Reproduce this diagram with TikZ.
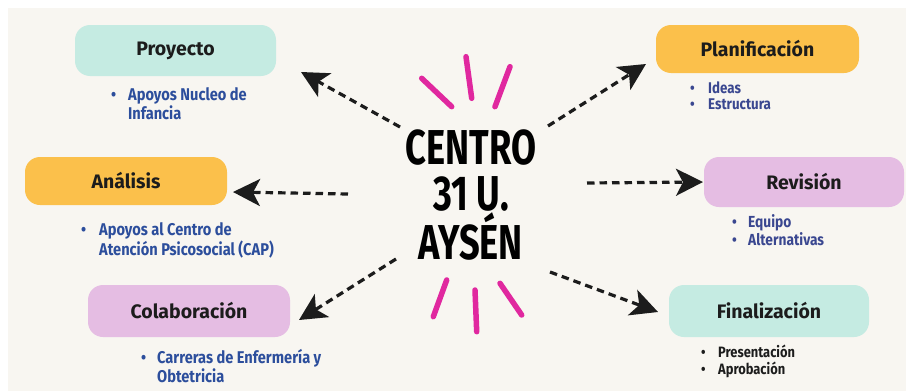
\documentclass[tikz,border=0pt]{standalone}
\usepackage{fontspec}
\setmainfont{Fira Sans}
\newfontfamily\cond{Fira Sans}[FakeStretch=0.86]
\newfontfamily\bigcond{Fira Sans}[FakeStretch=0.74]
\usetikzlibrary{arrows.meta}
\definecolor{bgc}{HTML}{F8F6F1}
\definecolor{tealc}{HTML}{C5EBE2}
\definecolor{orangec}{HTML}{FBC04B}
\definecolor{pinkc}{HTML}{E5BDE3}
\definecolor{blueA}{HTML}{2C4E9C}
\definecolor{blueB}{HTML}{3A4790}
\definecolor{inkc}{HTML}{1C1C1C}
\definecolor{magc}{HTML}{E0289F}
\newcommand\bul[1]{\makebox[#1pt][l]{\textbullet}}
\tikzset{
  box/.style={inner sep=0pt, rounded corners=15pt, text=inkc,
    font=\bfseries\fontsize{19.5}{22}\selectfont},
  items/.style={anchor=base west, inner sep=0pt, font=\cond\bfseries},
  arr/.style={draw=inkc, line width=3.2pt, dash pattern=on 7.5pt off 5pt,
    -{Stealth[length=27pt,width=27pt,inset=7pt]}},
  burst/.style={draw=magc, line width=5.5pt, line cap=round}
}
\begin{document}
\begin{tikzpicture}[x=1pt,y=-1pt]
\useasboundingbox (0,0) rectangle (906,391);
\fill[white] (0,0) rectangle (906,391);
\fill[bgc] (8,8) rectangle (906,391);

% boxes
\node[box, fill=tealc, minimum width=201pt, minimum height=51pt] (proy) at (175.5,50.5) {Proyecto};
\node[box, fill=orangec, minimum width=202pt, minimum height=48pt] (anal) at (126,181) {Análisis};
\node[box, fill=pinkc, minimum width=202pt, minimum height=52pt] (cola) at (189,311) {Colaboración};
\node[box, fill=orangec, minimum width=203pt, minimum height=48pt] (plan) at (757.5,49) {Planificación};
\node[box, fill=pinkc, minimum width=200pt, minimum height=50pt] (revi) at (804,182) {Revisión};
\node[box, fill=tealc, minimum width=200pt, minimum height=52pt] (fina) at (769,311) {Finalización};

% bullet lists
\node[items, text=blueA, font=\cond\bfseries\fontsize{17}{18.5}\selectfont] (proyL) at (111,100)
  {\begin{tabular}[t]{@{}l@{}l@{}}\bul{17} & Apoyos Nucleo de\\ & Infancia\end{tabular}};
\node[items, text=blueA, font=\cond\bfseries\fontsize{17}{18.5}\selectfont] (analL) at (81,235)
  {\begin{tabular}[t]{@{}l@{}l@{}}\bul{18} & Apoyos al Centro de\\ & Atención Psicosocial (CAP)\end{tabular}};
\node[items, text=blueA, font=\cond\bfseries\fontsize{17}{19}\selectfont] (colaL) at (141,363)
  {\begin{tabular}[t]{@{}l@{}l@{}}\bul{16} & Carreras de Enfermería y\\ & Obtetricia\end{tabular}};
\node[items, text=blueB, font=\cond\bfseries\fontsize{15.5}{16}\selectfont] (planL) at (690,93)
  {\begin{tabular}[t]{@{}l@{}l@{}}\bul{18} & Ideas\\ \bul{18} & Estructura\end{tabular}};
\node[items, text=blueB, font=\cond\bfseries\fontsize{16}{18}\selectfont] (reviL) at (732,227)
  {\begin{tabular}[t]{@{}l@{}l@{}}\bul{16} & Equipo\\ \bul{16} & Alternativas\end{tabular}};
\node[items, text=inkc, font=\cond\bfseries\fontsize{15}{17}\selectfont] (finaL) at (701,357)
  {\begin{tabular}[t]{@{}l@{}l@{}}\bul{17} & Presentación\\ \bul{17} & Aprobación\end{tabular}};

% centre
\node[align=center, inner sep=0pt, text=black,
  font=\bigcond\bfseries\fontsize{49}{45.5}\selectfont] (centre) at (471,195)
  {CENTRO\\31 U.\\AYSÉN};

% burst strokes
\draw[burst] (421.7,78.3) -- (451.7,106.7);
\draw[burst] (466,56.7) -- (471.7,98.3);
\draw[burst] (510,66.7) -- (495,106.7);
\draw[burst] (446.7,280) -- (433.3,316.7);
\draw[burst] (475,290) -- (476.7,331.7);
\draw[burst] (500,283.3) -- (521.7,315);

% arrows
\coordinate (s1) at (400,127); \coordinate (t1) at (301,72);
\coordinate (s2) at (348,194); \coordinate (t2) at (233,192);
\coordinate (s3) at (396,259); \coordinate (t3) at (299,320);
\coordinate (s4) at (548,126); \coordinate (t4) at (646,64);
\coordinate (s5) at (587,183); \coordinate (t5) at (703,182);
\coordinate (s6) at (550,272); \coordinate (t6) at (658,312);
\draw[arr] (s1) -- (t1);
\draw[arr] (s2) -- (t2);
\draw[arr] (s3) -- (t3);
\draw[arr] (s4) -- (t4);
\draw[arr] (s5) -- (t5);
\draw[arr] (s6) -- (t6);
\end{tikzpicture}
\end{document}
